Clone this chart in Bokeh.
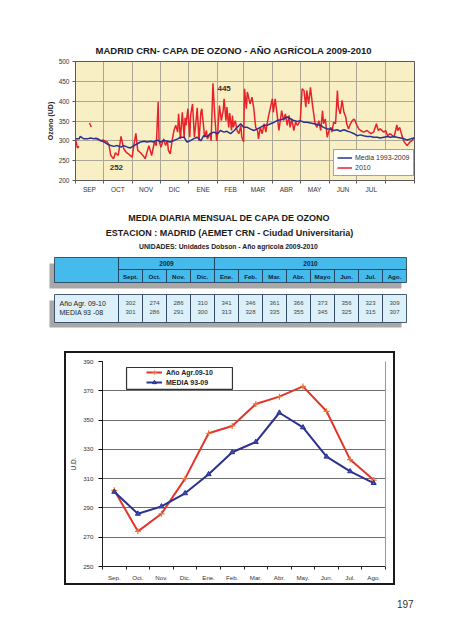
import math
from bokeh.plotting import figure
from bokeh.models import (Range1d, FixedTicker, Legend, LegendItem, Label, LinearAxis,
                          BoxAnnotation, Spacer, Div)
from bokeh.layouts import column, row
from bokeh.core.properties import value
from bokeh.embed import file_html
from bokeh.resources import INLINE

FONT = "Liberation Sans"
NAN = float("nan")

# ---------------- data: daily chart ----------------
MONTHS_TOP = ["SEP", "OCT", "NOV", "DIC", "ENE", "FEB", "MAR", "ABR", "MAY", "JUN", "JUL"]
MONTH_START_DAY = [0, 30, 61, 91, 122, 153, 181, 212, 242, 273, 303, 334, 365]
Y_TICKS_TOP = [200, 250, 300, 350, 400, 450, 500]

# 2010 series (day of agricultural year, ozone UD); None = missing
red_points = [
    (0, 305), (2, 282), (4, 286), (9, None),
    (15, 345), (17, 335), (19, None),
    (21, 307), (23, 305), (27, 300), (30, 302), (34, 297), (36, 290), (38, 263), (41, 255),
    (43, 270), (46, 263), (49, 311), (52, 280), (55, 270), (58, 265), (61, 259), (63, 292),
    (65, 319), (67, 276), (70, 270), (73, 262), (75, 255), (79, 288), (82, 263), (85, 297),
    (87, 288), (89, 398), (90, 300), (92, 284), (95, 305), (97, 288), (99, 300), (100, 276),
    (102, 267), (104, 300), (106, 326), (108, 339), (110, 322), (111, 368), (113, 305),
    (115, 372), (117, 309), (118, 358), (119, 339), (121, 381), (123, 309), (124, 364),
    (126, 393), (128, 309), (130, 355), (131, 383), (133, 300), (135, 372), (136, 381),
    (138, 334), (139, 309), (141, 326), (142, 305), (145, 318), (146, 300), (148, 445),
    (150, 360), (152, 300), (153, 318), (155, 389), (157, 351), (159, 376), (160, 406),
    (162, 351), (163, 385), (165, 334), (166, 370), (168, 326), (169, 364), (170, 334),
    (172, 351), (174, 326), (176, 318), (178, 339), (179, 309), (181, 298), (182, 431),
    (184, 381), (185, 423), (188, 393), (190, 410), (192, 381), (194, 334), (196, 326),
    (197, 305), (199, 334), (201, 318), (203, 343), (205, 322), (206, 339), (208, 364),
    (210, 385), (212, 406), (213, 372), (215, 406), (217, 368), (219, 326), (221, 360),
    (222, 376), (224, 351), (226, 368), (228, 339), (230, 364), (231, 334), (233, 355),
    (235, 326), (237, 347), (239, 339), (240, 343), (242, 351), (244, 431), (246, 427),
    (248, 385), (249, 427), (251, 393), (253, 435), (255, 393), (257, 360), (258, 343),
    (260, 334), (262, 351), (264, 326), (266, 376), (267, 343), (269, 355), (271, 309),
    (273, 326), (275, 334), (276, 322), (278, 347), (280, 343), (282, 427), (283, 385),
    (285, 368), (287, 402), (289, 372), (291, 360), (292, 343), (294, 330), (296, 343),
    (298, 351), (300, 355), (301, 351), (303, 339), (305, 330), (307, 326), (310, 322),
    (314, 326), (318, 318), (321, 322), (324, 343), (326, 326), (328, 330), (332, 322),
    (334, 326), (336, 313), (339, 318), (343, 309), (346, 340), (347, 326), (349, 334),
    (352, 309), (354, 297), (357, 288), (360, 297), (362, 300), (365, 309),
]

# Media 1993-2009 series
blue_points = [
    (0, 305), (4, 305), (5, 311), (9, 305), (13, 305), (16, 307), (20, 305), (23, 306),
    (27, 301), (31, 297), (34, 292), (38, 288), (41, 286), (45, 288), (49, 284), (52, 288),
    (56, 284), (59, 282), (63, 288), (66, 292), (70, 297), (74, 299), (77, 297), (81, 299),
    (84, 297), (88, 302), (92, 297), (95, 301), (99, 299), (102, 297), (106, 301), (110, 305),
    (113, 309), (117, 309), (120, 297), (124, 301), (127, 305), (131, 309), (135, 300),
    (138, 313), (142, 311), (145, 318), (149, 322), (153, 318), (156, 326), (160, 322),
    (163, 324), (167, 318), (171, 326), (174, 334), (178, 343), (181, 334), (185, 334),
    (188, 330), (192, 326), (196, 330), (199, 334), (203, 339), (206, 339), (210, 343),
    (214, 347), (217, 351), (221, 353), (224, 355), (228, 360), (232, 355), (235, 351),
    (239, 349), (242, 351), (246, 347), (249, 347), (253, 345), (257, 343), (260, 341),
    (264, 339), (267, 334), (271, 330), (275, 330), (278, 326), (282, 328), (285, 324),
    (289, 328), (293, 324), (296, 322), (300, 318), (303, 313), (307, 315), (310, 313),
    (314, 311), (318, 311), (321, 309), (325, 309), (328, 307), (332, 309), (336, 311),
    (339, 309), (343, 311), (346, 309), (350, 307), (354, 305), (357, 302), (361, 305),
    (365, 307),
]

# ---------------- data: monthly table / chart ----------------
MONTHS_TABLE = ["Sept.", "Oct.", "Nov.", "Dic.", "Ene.", "Feb.", "Mar.", "Abr.", "Mayo", "Jun.", "Jul.", "Ago."]
MONTHS_CHART = ["Sep.", "Oct.", "Nov.", "Dic.", "Ene.", "Feb.", "Mar.", "Abr.", "May.", "Jun.", "Jul.", "Ago."]
YEARS = ["2009", "2010"]
YEAR_SPAN = [4, 8]
agr_0910 = [302, 274, 286, 310, 341, 346, 361, 366, 373, 356, 323, 309]
media_9308 = [301, 286, 291, 300, 313, 328, 335, 355, 345, 325, 315, 307]
Y_TICKS_BOTTOM = [250, 270, 290, 310, 330, 350, 370, 390]

RED = "#E6232A"
BLUE = "#2B3190"

# =============== figure 1: daily chart ===============
W = 458
p1 = figure(width=W, height=200, x_range=Range1d(0, 365), y_range=Range1d(200, 500),
            output_backend="svg", toolbar_location=None,
            min_border_left=75, min_border_right=W - 414, min_border_top=61, min_border_bottom=20)
p1.background_fill_color = "#F8EFC4"
p1.border_fill_color = "white"
p1.outline_line_color = "#5A5A5A"
p1.outline_line_width = 1
p1.title.text = "MADRID  CRN- CAPA DE OZONO - AÑO AGRÍCOLA 2009-2010"
p1.title.align = "left"
p1.title.offset = 20
p1.title.text_font = FONT
p1.title.text_font_size = "9.5px"
p1.title.text_font_style = "bold"
p1.title.text_color = "#1A1A1A"
p1.title.standoff = 11

p1.xgrid.ticker = FixedTicker(ticks=MONTH_START_DAY[1:-1])
p1.xgrid.grid_line_color = "#ABA696"
p1.ygrid.ticker = FixedTicker(ticks=Y_TICKS_TOP[1:-1])
p1.ygrid.grid_line_color = "#ABA696"

centers_top = [(MONTH_START_DAY[i] + MONTH_START_DAY[i + 1]) / 2.0 for i in range(len(MONTHS_TOP))]
p1.xaxis.ticker = FixedTicker(ticks=centers_top, minor_ticks=MONTH_START_DAY)
p1.xaxis.major_label_overrides = {c: m for c, m in zip(centers_top, MONTHS_TOP)}
p1.xaxis.major_tick_line_color = None
p1.xaxis.major_tick_out = 0
p1.xaxis.major_tick_in = 0
p1.xaxis.minor_tick_line_color = "#5A5A5A"
p1.xaxis.minor_tick_out = 3
p1.xaxis.minor_tick_in = 0
p1.xaxis.axis_line_color = "#5A5A5A"
p1.xaxis.major_label_standoff = 2
p1.yaxis.ticker = FixedTicker(ticks=Y_TICKS_TOP)
p1.yaxis.major_tick_out = 3
p1.yaxis.major_tick_in = 0
p1.yaxis.minor_tick_line_color = None
p1.yaxis.axis_line_color = "#5A5A5A"
p1.yaxis.major_tick_line_color = "#5A5A5A"
p1.yaxis.major_label_standoff = 3
p1.yaxis.axis_label = "Ozono (UD)"
p1.yaxis.axis_label_text_font_size = "7px"
p1.yaxis.axis_label_text_font_style = "bold"
p1.yaxis.axis_label_text_font = FONT
p1.yaxis.axis_label_text_color = "#222222"
p1.yaxis.axis_label_standoff = 2
for ax in (p1.xaxis, p1.yaxis):
    ax.major_label_text_font = FONT
    ax.major_label_text_font_size = "6.5px"
    ax.major_label_text_color = "#333333"

rx = [d for d, v in red_points]
ry = [NAN if v is None else v for d, v in red_points]
bx = [d for d, v in blue_points]
by = [v for d, v in blue_points]
rr = p1.line(rx, ry, line_color=RED, line_width=1.5)
rb = p1.line(bx, by, line_color=BLUE, line_width=1.5)

leg1 = Legend(items=[LegendItem(label="Media 1993-2009", renderers=[rb]),
                     LegendItem(label="2010", renderers=[rr])],
              location=(258, 4), label_text_font=FONT, label_text_font_size="7px",
              label_text_color="#333333", glyph_width=15, glyph_height=9, label_height=9,
              label_standoff=3, spacing=1, padding=3, margin=0,
              border_line_color="#444444", border_line_width=1,
              background_fill_color="white", background_fill_alpha=1)
p1.add_layout(leg1)

p1.add_layout(Label(x=160, y=432, text="445", text_font=FONT, text_font_size="8px",
                    text_font_style="bold", text_align="center", text_baseline="middle",
                    text_color="#333333"))
p1.add_layout(Label(x=44, y=233, text="252", text_font=FONT, text_font_size="8px",
                    text_font_style="bold", text_align="center", text_baseline="middle",
                    text_color="#333333"))

# =============== figure 2: table ===============
Y2 = 200
H2 = 153
p2 = figure(width=W, height=H2, x_range=Range1d(0, W), y_range=Range1d(Y2 + H2, Y2),
            output_backend="svg", toolbar_location=None, x_axis_type=None, y_axis_type=None,
            min_border_left=0, min_border_right=0, min_border_top=0, min_border_bottom=0)
p2.grid.visible = False
p2.outline_line_color = None
p2.background_fill_color = "white"

TF = value(FONT)
p2.text(x=[229], y=[217], text=["MEDIA DIARIA MENSUAL DE CAPA DE OZONO"], text_font=TF,
        text_font_size="9px", text_font_style="bold", text_align="center",
        text_baseline="middle", text_color="#1A1A1A")
p2.text(x=[229], y=[232], text=["ESTACION : MADRID (AEMET CRN - Ciudad Universitaria)"], text_font=TF,
        text_font_size="9px", text_font_style="bold", text_align="center",
        text_baseline="middle", text_color="#1A1A1A")
p2.text(x=[229], y=[246], text=["UNIDADES: Unidades Dobson  - Año agricola 2009-2010"], text_font=TF,
        text_font_size="6.8px", text_font_style="bold", text_align="center",
        text_baseline="middle", text_color="#222222")

HEAD_BLUE = "#44BBEA"
LIGHT_BLUE = "#DCF0FA"
EDGE = "#1E3452"
SHADOW = "#A8A8A8"
X_LAB0, X0, COLW = 54, 118, 24
X_END = X0 + COLW * 12
col_l = [X0 + COLW * i for i in range(12)]
col_r = [c + COLW for c in col_l]
col_c = [c + COLW / 2 for c in col_l]

# shadows
p2.quad(left=[X_LAB0 - 5, X_LAB0 - 5], right=[X_END - 5, X_END - 5], top=[263, 300], bottom=[288, 327],
        fill_color=SHADOW, line_color=None)
# header
p2.quad(left=[X_LAB0], right=[X0], top=[257], bottom=[282], fill_color=HEAD_BLUE,
        line_color=EDGE, line_width=0.8)
yl = [X0, X0 + COLW * YEAR_SPAN[0]]
yr = [X0 + COLW * YEAR_SPAN[0], X_END]
p2.quad(left=yl, right=yr, top=[257, 257], bottom=[269, 269], fill_color=HEAD_BLUE,
        line_color=EDGE, line_width=0.8)
p2.quad(left=col_l, right=col_r, top=[269] * 12, bottom=[282] * 12, fill_color=HEAD_BLUE,
        line_color=EDGE, line_width=0.8)
p2.text(x=[(a + b) / 2 for a, b in zip(yl, yr)], y=[263, 263], text=YEARS, text_font=TF,
        text_font_size="6.5px", text_font_style="bold", text_align="center",
        text_baseline="middle", text_color="#14243C")
p2.text(x=col_c, y=[275.8] * 12, text=MONTHS_TABLE, text_font=TF, text_font_size="6.2px",
        text_font_style="bold", text_align="center", text_baseline="middle", text_color="#14243C")
# data rows
p2.quad(left=[X_LAB0], right=[X0], top=[294], bottom=[322], fill_color=LIGHT_BLUE,
        line_color=EDGE, line_width=0.8)
p2.quad(left=col_l, right=col_r, top=[294] * 12, bottom=[322] * 12, fill_color=LIGHT_BLUE,
        line_color=EDGE, line_width=0.8)
p2.text(x=[X_LAB0 + 5, X_LAB0 + 5], y=[302.5, 311.5], text=["Año Agr. 09-10", "MEDIA 93 -08"],
        text_font=TF, text_font_size="7px", text_align="left", text_baseline="middle",
        text_color="#222222")
p2.text(x=col_c, y=[302.5] * 12, text=[str(v) for v in agr_0910], text_font=TF,
        text_font_size="6px", text_align="center", text_baseline="middle", text_color="#444444")
p2.text(x=col_c, y=[311.5] * 12, text=[str(v) for v in media_9308], text_font=TF,
        text_font_size="6px", text_align="center", text_baseline="middle", text_color="#444444")

# =============== figure 3: monthly chart ===============
# figure occupies page x 66..393, y 353..583
p3 = figure(width=327, height=230, x_range=Range1d(0, 12), y_range=Range1d(250, 390),
            output_backend="svg", toolbar_location=None,
            min_border_left=36, min_border_right=8, min_border_top=8, min_border_bottom=16)
p3.styles = {"outline": "2px solid #1A1A1A"}
p3.outline_line_color = None
p3.background_fill_color = "white"
p3.xgrid.grid_line_color = None
p3.ygrid.ticker = FixedTicker(ticks=Y_TICKS_BOTTOM[1:-1])
p3.ygrid.grid_line_color = "#6E6E6E"
p3.ygrid.grid_line_width = 1.2

xc = [i + 0.5 for i in range(12)]
p3.xaxis.ticker = FixedTicker(ticks=xc, minor_ticks=list(range(13)))
p3.xaxis.major_label_overrides = {c: m for c, m in zip(xc, MONTHS_CHART)}
p3.xaxis.major_tick_line_color = None
p3.xaxis.major_tick_out = 0
p3.xaxis.major_tick_in = 0
p3.xaxis.minor_tick_line_color = "#222222"
p3.xaxis.minor_tick_out = 3
p3.xaxis.minor_tick_in = 0
p3.xaxis.major_label_standoff = 4
p3.xaxis.axis_line_color = "#222222"
p3.yaxis.ticker = FixedTicker(ticks=Y_TICKS_BOTTOM)
p3.yaxis.minor_tick_line_color = None
p3.yaxis.major_tick_out = 4
p3.yaxis.major_tick_in = 0
p3.yaxis.major_label_standoff = 5
p3.yaxis.axis_line_color = "#222222"
p3.yaxis.axis_label = "U.D."
p3.yaxis.axis_label_text_font = FONT
p3.yaxis.axis_label_text_font_size = "6.5px"
p3.yaxis.axis_label_text_font_style = "normal"
p3.yaxis.axis_label_text_color = "#333333"
p3.yaxis.axis_label_standoff = 3
for ax in (p3.xaxis, p3.yaxis):
    ax.major_label_text_font = FONT
    ax.major_label_text_font_size = "6.2px"
    ax.major_label_text_color = "#333333"
right_ax = LinearAxis(ticker=FixedTicker(ticks=[]), major_tick_line_color=None,
                      minor_tick_line_color=None, axis_line_color="#9A9A9A",
                      major_label_standoff=0)
p3.add_layout(right_ax, "right")

lr = p3.line(xc, agr_0910, line_color="#E2352B", line_width=2)
mr = p3.scatter(xc, agr_0910, marker="cross", size=6, line_color="#E8783A", line_width=1.2)
lb = p3.line(xc, media_9308, line_color=BLUE, line_width=2)
mb = p3.scatter(xc, media_9308, marker="triangle", size=5, line_color=BLUE, fill_color="#3A50B0")

p3.add_layout(BoxAnnotation(left=1.02, right=5.51, bottom=371.0, top=385.9,
                            fill_color="white", fill_alpha=1, line_color="#333333",
                            line_width=1.2, line_alpha=1))
leg3 = Legend(items=[LegendItem(label="Año Agr.09-10", renderers=[lr, mr]),
                     LegendItem(label="MEDIA 93-09", renderers=[lb, mb])],
              location=(44, 179), label_text_font=FONT, label_text_font_size="7px",
              label_text_font_style="bold", label_text_color="#222222",
              glyph_width=16, glyph_height=10, label_height=10, label_standoff=4,
              spacing=0, padding=0, margin=0, border_line_color=None,
              background_fill_alpha=0)
p3.add_layout(leg3)

page_no = Div(text="197", width=30, height=14, margin=0,
              styles={"font-family": FONT, "font-size": "10px", "color": "#333333"})

layout = column(row(p1), row(p2), row(Spacer(width=66, height=230), p3),
                Spacer(width=10, height=15), row(Spacer(width=397, height=14), page_no))

open("out.html", "w").write(file_html(layout, INLINE))
